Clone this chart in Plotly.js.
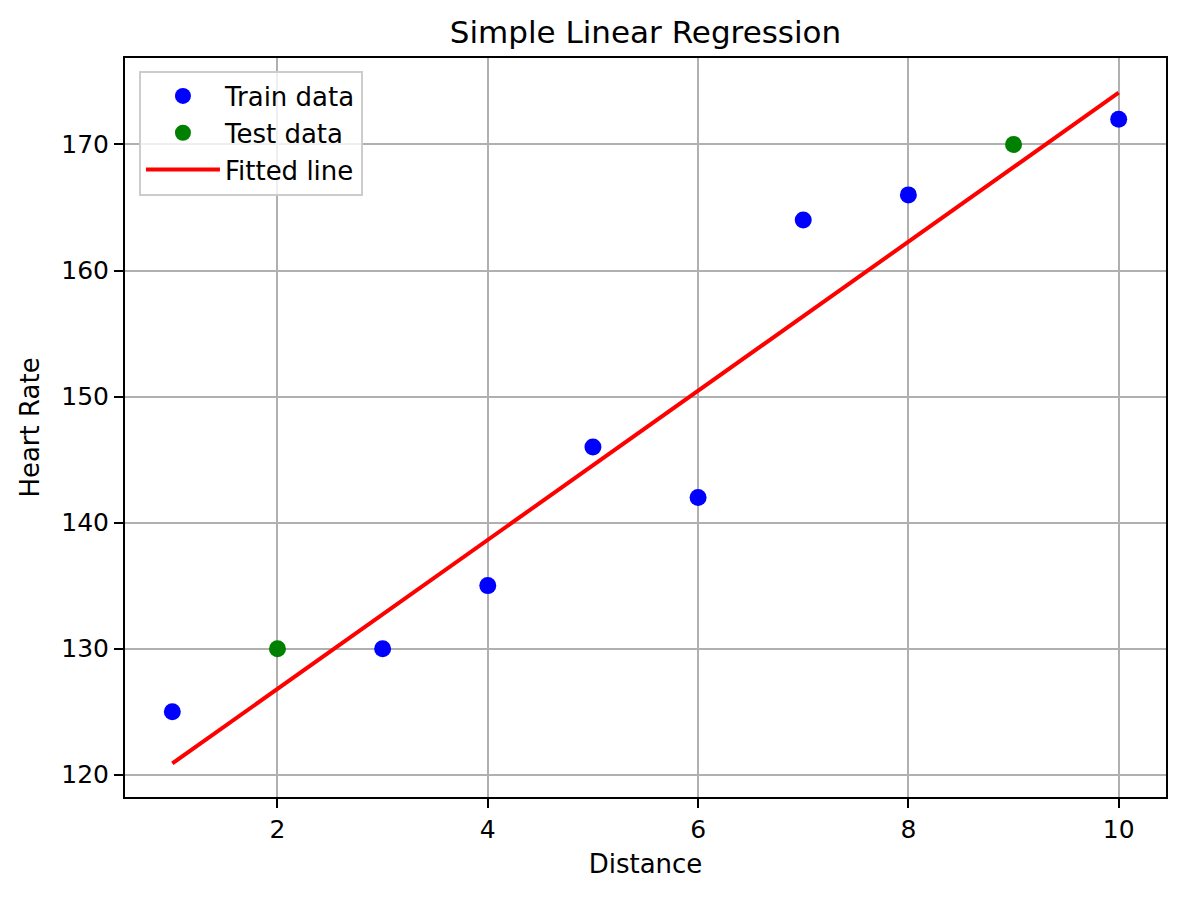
<!DOCTYPE html>
<html>
<head>
<meta charset="utf-8">
<script src="https://cdn.plot.ly/plotly-3.0.1.min.js"></script>
<style>
  html, body { margin: 0; padding: 0; background: #ffffff; }
  #chart { width: 1186px; height: 898px; }
</style>
</head>
<body>
<div id="chart"></div>
<script>
// Data
const trainX = [1, 3, 4, 5, 6, 7, 8, 10];
const trainY = [125, 130, 135, 146, 142, 164, 166, 172];
const testX = [2, 9];
const testY = [130, 170];
const fitX = [1, 10];
const fitY = [120.89, 174.11];
const xTicks = [2, 4, 6, 8, 10];
const yTicks = [120, 130, 140, 150, 160, 170];

const FONT = "DejaVu Sans, Liberation Sans, sans-serif";

const traces = [
  {
    type: "scatter", mode: "markers", name: "Train data",
    x: trainX, y: trainY,
    marker: { color: "#0000ff", size: 17, line: { width: 0 } },
    cliponaxis: false
  },
  {
    type: "scatter", mode: "markers", name: "Test data",
    x: testX, y: testY,
    marker: { color: "#008000", size: 17, line: { width: 0 } },
    cliponaxis: false
  },
  {
    type: "scatter", mode: "lines", name: "Fitted line",
    x: fitX, y: fitY,
    line: { color: "#ff0000", width: 4 }
  }
];

const axisCommon = {
  showline: true, linecolor: "#000000", linewidth: 2, mirror: true,
  showgrid: true, gridcolor: "#b0b0b0", gridwidth: 2,
  zeroline: false,
  ticks: "outside", ticklen: 9, tickwidth: 2, tickcolor: "#000000",
  tickfont: { family: FONT, size: 25, color: "#000000" }
};

const layout = {
  width: 1186, height: 898,
  paper_bgcolor: "#ffffff", plot_bgcolor: "#ffffff",
  margin: { l: 125, r: 20, t: 58, b: 101, pad: 0 },
  font: { family: FONT, color: "#000000" },
  title: {
    text: "Simple Linear Regression",
    font: { family: FONT, size: 31, color: "#000000" },
    x: 0.5, xref: "paper", xanchor: "center",
    y: 1 - 32 / 898, yref: "container", yanchor: "middle"
  },
  xaxis: Object.assign({}, axisCommon, {
    range: [0.55, 10.45],
    tickmode: "array", tickvals: xTicks, ticktext: xTicks.map(String),
    title: { text: "Distance", font: { family: FONT, size: 26, color: "#000000" }, standoff: 12 }
  }),
  yaxis: Object.assign({}, axisCommon, {
    range: [118.23, 176.86],
    tickmode: "array", tickvals: yTicks, ticktext: yTicks.map(String),
    title: { text: "Heart Rate", font: { family: FONT, size: 26, color: "#000000" }, standoff: 14 }
  }),
  showlegend: true,
  legend: {
    x: 0.0134, y: 0.983, xanchor: "left", yanchor: "top",
    bgcolor: "rgba(255,255,255,0.8)", bordercolor: "#cccccc", borderwidth: 2,
    font: { family: FONT, size: 26, color: "#000000" },
    itemwidth: 74,
    tracegroupgap: 0
  }
};

Plotly.newPlot("chart", traces, layout, { displayModeBar: false, staticPlot: true });
</script>
</body>
</html>
